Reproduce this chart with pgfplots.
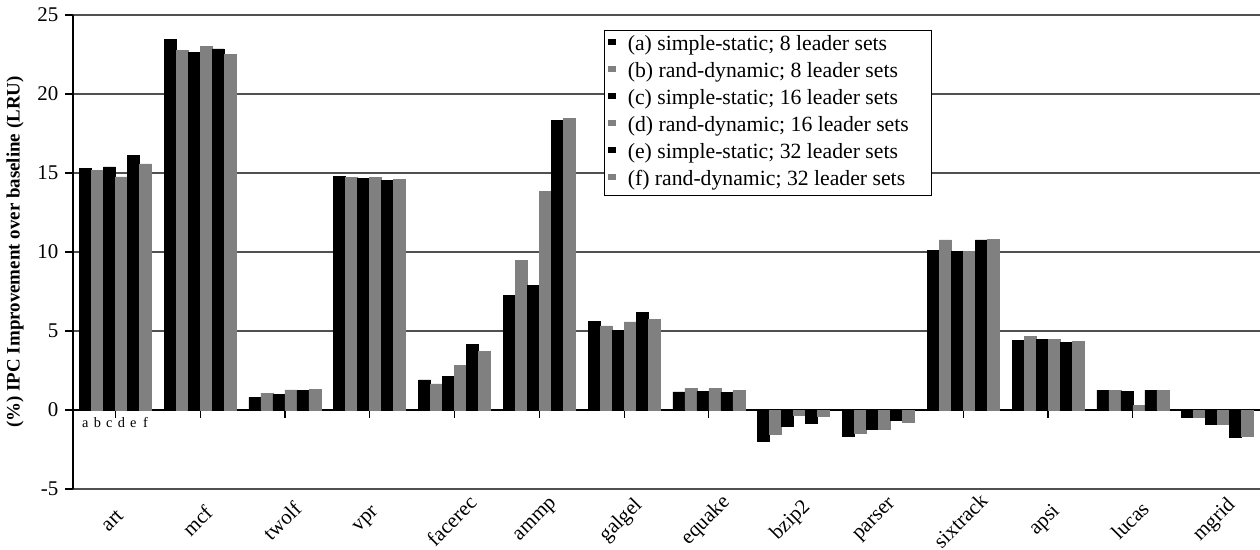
\documentclass[border=0pt]{standalone}
\usepackage{pgfplots}
\pgfplotsset{compat=1.18}
\usepackage{fontspec}
\setmainfont{Liberation Serif}
\definecolor{bargray}{HTML}{808080}
\definecolor{gridgray}{HTML}{505050}
\begin{document}
\begin{tikzpicture}
\useasboundingbox (-36.5bp,-30.5bp) rectangle (593.5bp,244.5bp);
\begin{axis}[
  at={(0,0)}, anchor=south west,
  scale only axis, width=593.5bp, height=237bp,
  ybar=0pt, bar width=6bp,
  xmin=-0.5, xmax=13.5, ymin=-5, ymax=25,
  axis y line*=left, axis x line*=middle,
  axis line style={-, black, line width=0.6pt},
  xtick={0,...,13},
  xticklabels={art,mcf,twolf,vpr,facerec,ammp,galgel,equake,bzip2,parser,sixtrack,apsi,lucas,mgrid},
  x tick label style={yshift=-51.5bp, xshift=-1.5bp, rotate=45, anchor=center, font=\fontsize{10.5}{12}\selectfont},
  xtick style={black, line width=0.6pt},
  xtick align=outside, major tick length=3.8bp,
  ytick={-5,5,10,15,20,25},
  extra y ticks={0},
  extra y tick style={grid=none},
  y tick label style={font=\fontsize{10.5}{12}\selectfont},
  ytick style={black, line width=0.6pt},
  ytick align=outside,
  ymajorgrids, grid style={gridgray, line width=0.6pt},
  /pgf/number format/assume math mode=true,
  every axis y label/.style={at={(rel axis cs:0,0.5)}, xshift=-29bp, rotate=90, anchor=center},
  ylabel={\bfseries (\%) IPC Improvement over baseline (LRU)},
  label style={font=\fontsize{9.5}{12}\selectfont},
  legend cell align=left,
  legend image code/.code={\draw[#1,/tikz/.cd] (0bp,0.6bp) rectangle (3.5bp,3bp); \path (9bp,0bp);},
  legend style={at={(rel axis cs:0.447,0.968)}, anchor=north west, draw=black, line width=0.6pt,
    font=\fontsize{10.9}{12}\selectfont, fill=white, inner sep=2bp, row sep=2.5bp,
    nodes={inner sep=0.5bp, text height=7.5bp, text depth=2.5bp}},
  clip=false,
]
\addplot[fill=black, draw=black, line width=0.3pt] coordinates {
(0,15.27) (1,23.46) (2,0.80) (3,14.77) (4,1.90) (5,7.23) (6,5.61) (7,1.14) (8,-1.95) (9,-1.69) (10,10.08) (11,4.40) (12,1.26) (13,-0.48)};
\addplot[fill=bargray, draw=bargray, line width=0.3pt] coordinates {
(0,15.15) (1,22.78) (2,1.07) (3,14.72) (4,1.65) (5,9.47) (6,5.32) (7,1.39) (8,-1.52) (9,-1.46) (10,10.76) (11,4.68) (12,1.26) (13,-0.48)};
\addplot[fill=black, draw=black, line width=0.3pt] coordinates {
(0,15.38) (1,22.63) (2,0.97) (3,14.68) (4,2.15) (5,7.91) (6,5.02) (7,1.16) (8,-1.06) (9,-1.20) (10,10.06) (11,4.45) (12,1.20) (13,-0.91)};
\addplot[fill=bargray, draw=bargray, line width=0.3pt] coordinates {
(0,14.75) (1,23.00) (2,1.27) (3,14.72) (4,2.83) (5,13.86) (6,5.57) (7,1.35) (8,-0.32) (9,-1.20) (10,10.06) (11,4.47) (12,0.30) (13,-0.91)};
\addplot[fill=black, draw=black, line width=0.3pt] coordinates {
(0,16.10) (1,22.85) (2,1.22) (3,14.51) (4,4.16) (5,18.31) (6,6.18) (7,1.12) (8,-0.87) (9,-0.68) (10,10.76) (11,4.26) (12,1.26) (13,-1.70)};
\addplot[fill=bargray, draw=bargray, line width=0.3pt] coordinates {
(0,15.57) (1,22.49) (2,1.30) (3,14.58) (4,3.69) (5,18.46) (6,5.74) (7,1.22) (8,-0.42) (9,-0.79) (10,10.78) (11,4.35) (12,1.26) (13,-1.64)};
\legend{(a) simple-static; 8 leader sets,(b) rand-dynamic; 8 leader sets,(c) simple-static; 16 leader sets,(d) rand-dynamic; 16 leader sets\rule{9bp}{0pt},(e) simple-static; 32 leader sets,(f) rand-dynamic; 32 leader sets}
\foreach \l [count=\i from 0] in {a,b,c,d,e,f} {
  \edef\temp{\noexpand\node[font=\noexpand\fontsize{7.2}{8}\noexpand\selectfont, anchor=base, inner sep=0pt] at (axis cs:0,-1.08) [xshift={(\i-2.5)*6bp}] {\l};}
  \temp
}
\end{axis}
\end{tikzpicture}
\end{document}
